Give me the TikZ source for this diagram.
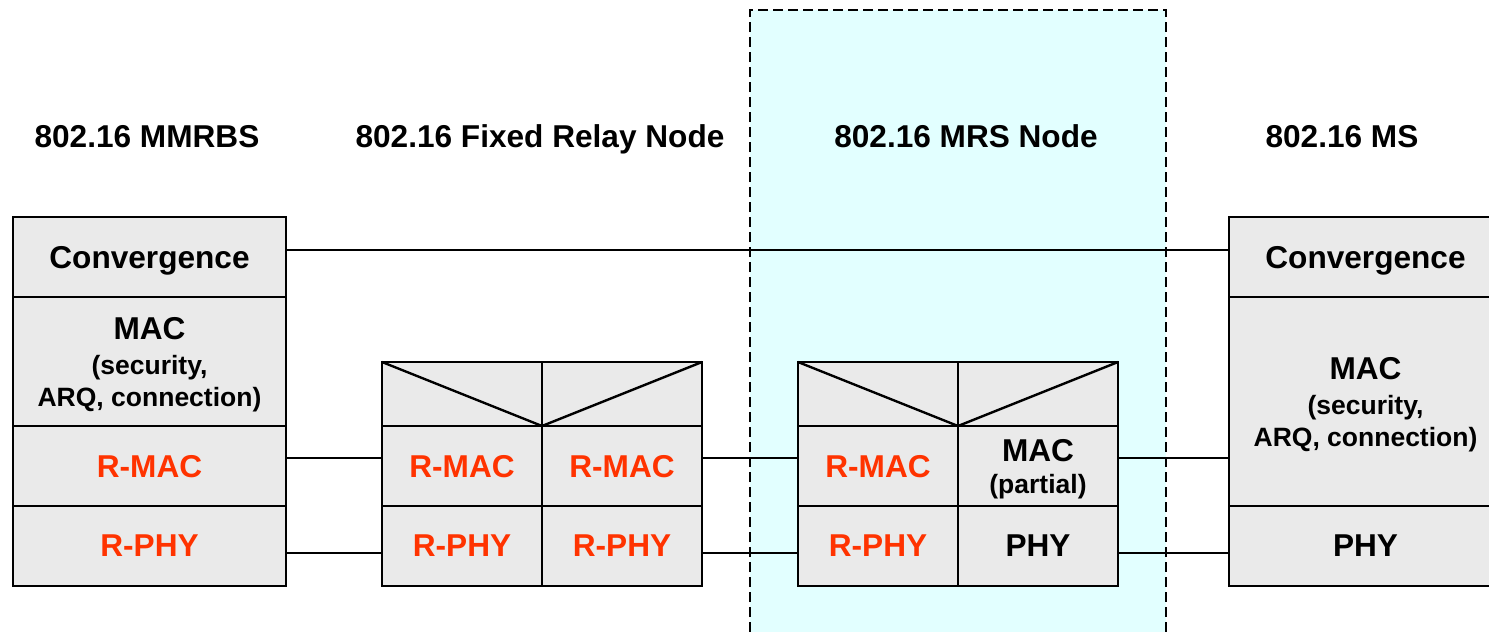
\documentclass[tikz,border=0pt]{standalone}
\usepackage{fontspec}
\setmainfont{Liberation Sans}
\usetikzlibrary{positioning}
\definecolor{cellgray}{RGB}{234,234,234}
\definecolor{relayred}{RGB}{255,51,0}
\definecolor{mrscyan}{RGB}{226,255,255}
\newcommand{\layerfont}{\bfseries\fontsize{31.6}{33}\selectfont}
\newcommand{\notefont}{\bfseries\fontsize{26.5}{31}\selectfont}
\begin{document}
\begin{tikzpicture}[x=1pt, y=-1pt, line join=miter]
	\tikzset{
		cell/.style={draw, line width=2.4pt, fill=cellgray, inner sep=0pt, outer sep=0pt,
			minimum height=80pt, text depth=0pt, align=center, font=\layerfont},
		halfcell/.style={cell, minimum width=160pt},
		rtext/.style={text=relayred},
		title/.style={font=\layerfont, anchor=base},
		link/.style={line width=1.7pt}
	}
	
	% Fix the page
	\useasboundingbox (0,0) rectangle (1489,632);
	
	% MRS node area
	\fill[mrscyan] (750,10) rectangle (1166,632);
	\draw[line width=2pt, dash pattern=on 10pt off 5pt] (750,632) -- (750,10) -- (1166,10) -- (1166,632);
	
	% Titles
	\node[title] (tbs) at (147,147) {802.16 MMRBS};
	\node[title] (tfrn) at (540,147) {802.16 Fixed Relay Node};
	\node[title] (tmrs) at (966,147) {802.16 MRS Node};
	\node[title] (tms) at (1342,147) {802.16 MS};
	
	% MMRBS stack
	\node[cell, anchor=north west, minimum width=273pt] (bsconv) at (13,217) {Convergence};
	\node[cell, minimum width=273pt, minimum height=129pt, below=0pt of bsconv] (bsmac)
		{MAC\\[2pt]{\notefont (security,}\\[-1pt]{\notefont ARQ, connection)}};
	\node[cell, rtext, minimum width=273pt, below=0pt of bsmac] (bsrmac) {R-MAC};
	\node[cell, rtext, minimum width=273pt, below=0pt of bsrmac] (bsrphy) {R-PHY};
	
	% Fixed relay node
	\node[cell, anchor=north west, minimum width=320pt, minimum height=64pt] (frtop) at (382,362) {};
	\node[halfcell, rtext, anchor=north west] (frrmaca) at (frtop.south west) {R-MAC};
	\node[halfcell, rtext, right=0pt of frrmaca] (frrmacb) {R-MAC};
	\node[halfcell, rtext, below=0pt of frrmaca] (frrphya) {R-PHY};
	\node[halfcell, rtext, below=0pt of frrmacb] (frrphyb) {R-PHY};
	\draw[line width=2.4pt] (frtop.north west) -- (frtop.south) -- (frtop.north east);
	\draw[line width=2.4pt] (frtop.north) -- (frtop.south);
	
	% MRS node
	\node[cell, anchor=north west, minimum width=320pt, minimum height=64pt] (mrstop) at (798,362) {};
	\node[halfcell, rtext, anchor=north west] (mrsrmac) at (mrstop.south west) {R-MAC};
	\node[halfcell, right=0pt of mrsrmac] (mrsmac) {MAC\\[-1pt]{\notefont (partial)}};
	\node[halfcell, rtext, below=0pt of mrsrmac] (mrsrphy) {R-PHY};
	\node[halfcell, below=0pt of mrsmac] (mrsphy) {PHY};
	\draw[line width=2.4pt] (mrstop.north west) -- (mrstop.south) -- (mrstop.north east);
	\draw[line width=2.4pt] (mrstop.north) -- (mrstop.south);
	
	% MS stack
	\node[cell, anchor=north west, minimum width=273pt] (msconv) at (1229,217) {Convergence};
	\node[cell, minimum width=273pt, minimum height=209pt, below=0pt of msconv] (msmac)
		{MAC\\[2pt]{\notefont (security,}\\[-1pt]{\notefont ARQ, connection)}};
	\node[cell, minimum width=273pt, below=0pt of msmac] (msphy) {PHY};
	
	% Peer links
	\draw[link] (bsconv.east |- 0,250) -- (msconv.west |- 0,250);
	\draw[link] (bsrmac.east |- 0,458) -- (frrmaca.west |- 0,458);
	\draw[link] (frrmacb.east |- 0,458) -- (mrsrmac.west |- 0,458);
	\draw[link] (mrsmac.east |- 0,458) -- (msmac.west |- 0,458);
	\draw[link] (bsrphy.east |- 0,553) -- (frrphya.west |- 0,553);
	\draw[link] (frrphyb.east |- 0,553) -- (mrsrphy.west |- 0,553);
	\draw[link] (mrsphy.east |- 0,553) -- (msphy.west |- 0,553);
	
\end{tikzpicture}
\end{document}
